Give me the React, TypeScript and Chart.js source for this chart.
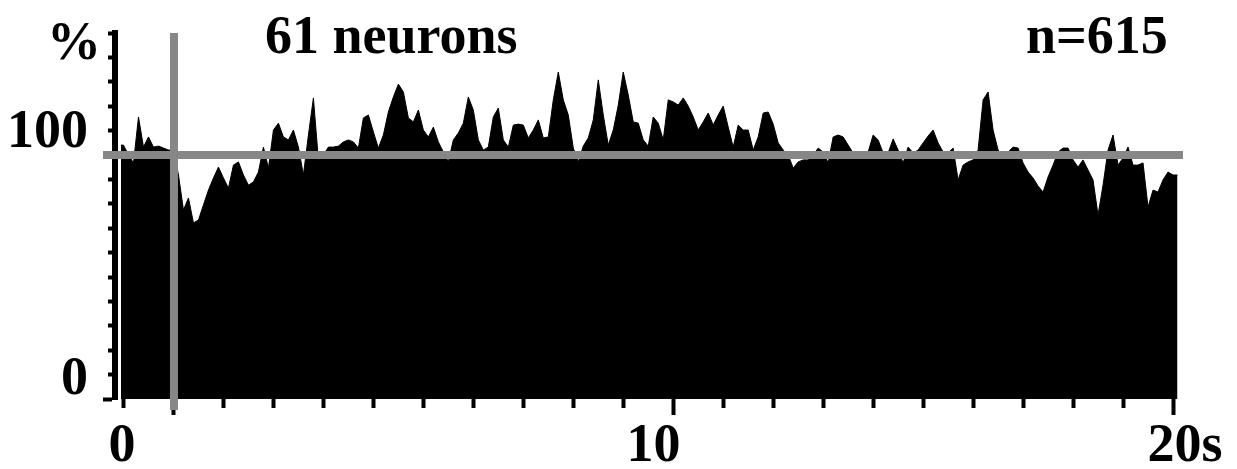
import React, { useEffect, useRef } from 'react';
import { Chart, registerables } from 'chart.js';

Chart.register(...registerables);

// ---- data ----
// firing rate (% of baseline) in 0.1 s bins, starting 1.06 s before stimulus
const BIN_START_S = -1.06;
const BIN_WIDTH_S = 0.1;
const RECORD_END_S = 20.08;

const preStimulusRate = [95.1, 91.1, 87.9, 106.5, 94.3, 98.4, 94.3, 94.7, 93.9, 93.1, 93.1];
const rateSeg1 = [
  83.0, 68.8, 73.7, 63.6, 64.8, 70.9, 76.9, 81.8, 86.2, 81.8,
  77.7, 87.0, 88.3, 83.0, 78.9, 80.2, 84.2, 94.3, 85.8, 101.2,
  104.0, 98.4, 97.2, 101.2, 94.3, 83.0, 99.2, 114.2, 89.1, 91.1,
  94.3, 94.3, 94.7, 96.4, 97.2, 96.4, 93.9, 106.1, 107.3, 100.4,
];
const rateSeg2 = [
  93.9, 99.2, 108.5, 114.6, 119.8, 116.6, 106.1, 104.5, 109.3, 101.2,
  98.4, 102.4, 96.4, 92.3, 88.3, 97.2, 100.0, 104.0, 114.6, 109.3,
  97.2, 93.1, 94.3, 106.5, 110.1, 97.2, 94.3, 103.2, 103.6, 103.2,
  98.0, 101.2, 105.3, 98.0, 98.4, 113.4, 124.7, 113.4, 107.3, 93.9,
];
const rateSeg3 = [
  88.3, 94.7, 98.0, 105.3, 121.5, 107.3, 95.1, 101.2, 111.3, 124.7,
  115.4, 104.5, 104.0, 97.2, 94.7, 106.5, 104.0, 97.2, 113.4, 112.6,
  111.3, 114.2, 110.9, 106.5, 101.2, 104.5, 108.1, 103.2, 107.3, 110.9,
  102.4, 94.3, 103.2, 101.2, 101.2, 93.1, 98.4, 108.1, 108.5, 103.6,
];
const rateSeg4 = [
  96.0, 93.1, 91.1, 85.8, 88.3, 89.1, 89.1, 91.1, 93.9, 92.3,
  87.9, 98.4, 99.2, 98.4, 95.1, 91.9, 91.9, 91.1, 92.3, 99.2,
  97.2, 91.9, 91.9, 97.6, 93.1, 87.9, 94.3, 91.9, 93.1, 96.0,
  98.8, 101.2, 96.0, 92.3, 91.9, 93.9, 81.0, 87.0, 88.3, 89.1,
];
const rateSeg5 = [
  93.1, 113.4, 116.6, 101.2, 93.1, 90.3, 92.3, 94.3, 93.9, 87.9,
  84.2, 81.8, 78.5, 76.1, 82.2, 87.0, 92.3, 93.9, 93.9, 89.1,
  86.2, 89.1, 85.0, 81.0, 66.8, 78.9, 93.1, 99.2, 87.0, 89.9,
  94.3, 87.0, 87.0, 87.9, 70.0, 76.9, 76.1, 81.0, 84.2, 83.0,
];

const BASELINE_RATE = 91.1; // grey horizontal reference
const STIMULUS_S = 0; // grey vertical reference

const TIME_TICKS = [-1, 0, 1, 2, 3, 4, 5, 6, 7, 8, 9, 10, 11, 12, 13, 14, 15, 16, 17, 18, 19, 20];
const LONG_TIME_TICKS = [0, 10, 20];
const TIME_LABELS = [0, 10, 20];
const RATE_LABELS = [0, 100];
const RATE_MARKS = [0, 1, 2, 3, 4, 5, 6, 7, 8, 9, 10, 11, 12, 13, 14, 15];

// ---- scale ranges ----
const X_MIN = -1.18;
const X_MAX = 20.33;
const XL_MIN = -0.1317;
const XL_MAX = 20.094;
const Y_MIN = -7.69;
const Y_MAX = 140.49;
const STIM_LINE_BOTTOM = -12.15;
const BASE_LINE_FROM = -1.42;
const BASE_LINE_TO = 20.19;

const GREY = '#878787';
const FONT = { family: '"Liberation Serif", "Times New Roman", serif', size: 54, weight: 'bold' as const };

const firingRate = [...preStimulusRate, ...rateSeg1, ...rateSeg2, ...rateSeg3, ...rateSeg4, ...rateSeg5];

export default function App() {
  const ref = useRef<HTMLCanvasElement>(null);

  useEffect(() => {
    const histData = firingRate.map((v, i) => ({ x: +(BIN_START_S + (i + 0.5) * BIN_WIDTH_S).toFixed(3), y: v }));
    histData.unshift({ x: BIN_START_S, y: firingRate[0] });
    histData.push({ x: RECORD_END_S, y: firingRate[firingRate.length - 1] });

    const chart = new Chart(ref.current as HTMLCanvasElement, {
      type: 'line',
      data: {
        datasets: [
          {
            data: [
              { x: STIMULUS_S, y: STIM_LINE_BOTTOM },
              { x: STIMULUS_S, y: Y_MAX },
            ],
            xAxisID: 'x',
            yAxisID: 'y',
            borderColor: GREY,
            borderWidth: 8,
            borderCapStyle: 'butt',
            pointRadius: 0,
            fill: false,
            clip: false as any,
          },
          {
            data: [
              { x: BASE_LINE_FROM, y: BASELINE_RATE },
              { x: BASE_LINE_TO, y: BASELINE_RATE },
            ],
            xAxisID: 'x',
            yAxisID: 'y',
            borderColor: GREY,
            borderWidth: 8,
            borderCapStyle: 'butt',
            pointRadius: 0,
            fill: false,
            clip: false as any,
          },
          {
            data: histData,
            xAxisID: 'x',
            yAxisID: 'y',
            tension: 0,
            borderColor: '#000',
            borderWidth: 1,
            backgroundColor: '#000',
            pointRadius: 0,
            fill: 'start',
          },
        ],
      },
      options: {
        responsive: false,
        animation: false,
        events: [],
        layout: { padding: { left: 0, right: 47, top: 33, bottom: 0 } },
        plugins: {
          legend: { display: false },
          tooltip: { enabled: false },
          title: { display: false },
        },
        scales: {
          x: {
            type: 'linear',
            position: 'bottom',
            weight: 0,
            bounds: 'data',
            min: X_MIN,
            max: X_MAX,
            afterBuildTicks: (s: any) => {
              s.ticks = TIME_TICKS.map((v) => ({ value: v }));
            },
            ticks: { display: false, autoSkip: false },
            grid: {
              display: true,
              drawOnChartArea: false,
              drawTicks: true,
              tickLength: 16,
              tickWidth: 4,
              tickColor: '#000',
              tickBorderDash: (ctx: any) => (LONG_TIME_TICKS.includes(ctx.tick.value) ? [] : [9, 100]),
            },
            border: { display: false },
            afterFit: (s: any) => {
              s.height = 16;
              s.paddingLeft = 0;
              s.paddingRight = 0;
            },
          },
          xl: {
            type: 'linear',
            position: 'bottom',
            weight: 1,
            bounds: 'data',
            min: XL_MIN,
            max: XL_MAX,
            afterBuildTicks: (s: any) => {
              s.ticks = TIME_LABELS.map((v) => ({ value: v }));
            },
            ticks: {
              autoSkip: false,
              maxRotation: 0,
              minRotation: 0,
              padding: 0,
              color: '#000',
              font: FONT,
              callback: (v: any) => (v === 20 ? '20s' : String(v)),
            },
            grid: { display: false, drawTicks: false },
            border: { display: false },
            afterFit: (s: any) => {
              s.height = 54;
              s.paddingLeft = 0;
              s.paddingRight = 0;
            },
          },
          yt: {
            type: 'linear',
            position: 'left',
            weight: 0,
            bounds: 'data',
            min: 0,
            max: 15,
            afterBuildTicks: (s: any) => {
              s.ticks = RATE_MARKS.map((v) => ({ value: v }));
            },
            ticks: { display: false, autoSkip: false },
            grid: {
              display: true,
              drawOnChartArea: false,
              drawTicks: true,
              tickLength: 12,
              tickWidth: 4,
              tickColor: '#000',
              tickBorderDash: (ctx: any) => (ctx.tick.value === 0 ? [] : [0, 5, 4, 100]),
            },
            border: { display: true, color: '#000', width: 6 },
            afterFit: (s: any) => {
              s.width = 15;
              s.paddingTop = 0;
              s.paddingBottom = 0;
            },
          },
          y: {
            type: 'linear',
            position: 'left',
            weight: 1,
            bounds: 'data',
            min: Y_MIN,
            max: Y_MAX,
            afterBuildTicks: (s: any) => {
              s.ticks = RATE_LABELS.map((v) => ({ value: v }));
            },
            ticks: {
              autoSkip: false,
              padding: 12,
              color: '#000',
              font: FONT,
              callback: (v: any) => String(v),
            },
            grid: { display: false, drawTicks: false },
            border: { display: false },
            afterFit: (s: any) => {
              s.width = 100;
              s.paddingTop = 0;
              s.paddingBottom = 0;
            },
          },
        },
      } as any,
    });
    return () => chart.destroy();
  }, []);

  const textStyle: React.CSSProperties = {
    position: 'absolute',
    margin: 0,
    fontFamily: '"Liberation Serif", "Times New Roman", serif',
    fontWeight: 'bold',
    fontSize: 54,
    lineHeight: '54px',
    whiteSpace: 'nowrap',
    color: '#000',
  };

  return (
    <div
      style={{
        position: 'fixed',
        left: 0,
        top: 0,
        width: 1237,
        height: 469,
        background: '#fff',
        overflow: 'hidden',
      }}
    >
      <canvas ref={ref} width={1237} height={469} style={{ display: 'block' }} />
      <div style={{ ...textStyle, left: 47, top: 14 }}>%</div>
      <div style={{ ...textStyle, left: 265, top: 8 }}>61 neurons</div>
      <div style={{ ...textStyle, left: 1026, top: 8 }}>n=615</div>
    </div>
  );
}
